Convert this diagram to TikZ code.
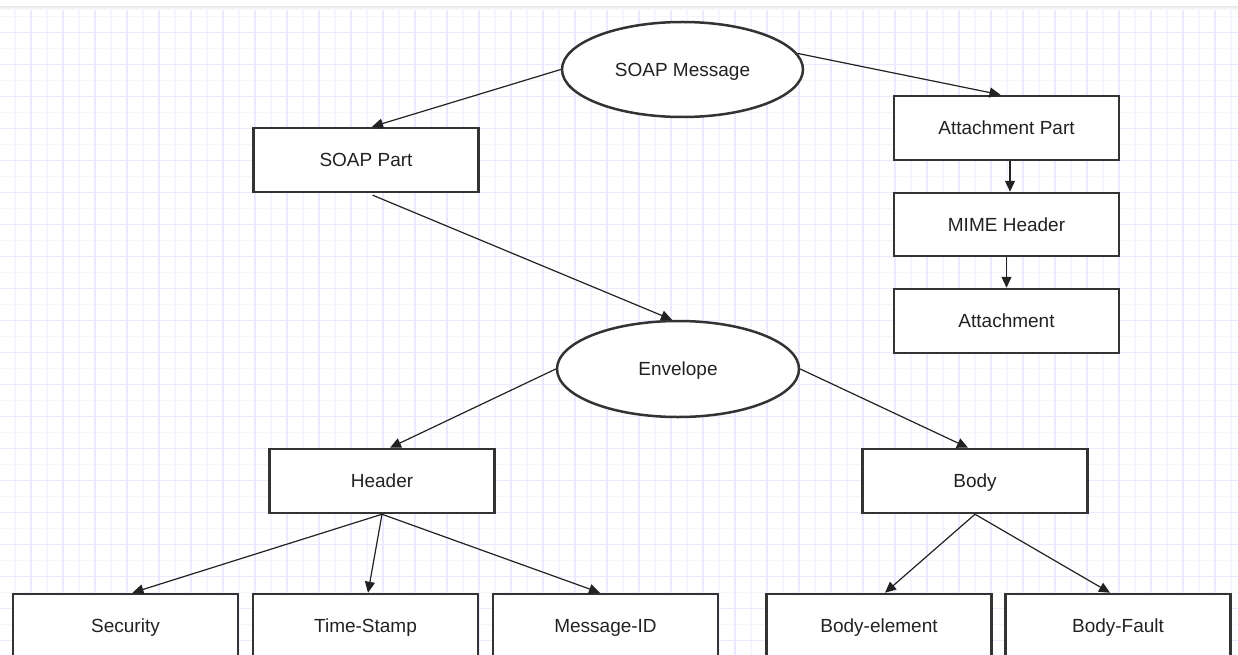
\documentclass[tikz,border=0pt]{standalone}
\usepackage{fontspec}
\setmainfont{Liberation Sans}
\usetikzlibrary{arrows.meta,shapes.geometric}
\definecolor{gridminor}{RGB}{245,244,255}
\definecolor{gridmajor}{RGB}{234,233,253}
\definecolor{edgecol}{RGB}{51,51,51}
\definecolor{inkcol}{RGB}{34,34,34}

\begin{document}
\begin{tikzpicture}[x=1pt,y=-1pt,
  shapebase/.style={draw=edgecol, line width=2.5pt, fill=white, text=inkcol,
    font=\fontsize{19}{22}\selectfont, inner sep=0pt,
    text height=13.6pt, text depth=0pt},
  entity/.style={shapebase, rectangle, minimum width=225pt, minimum height=64pt},
  bubble/.style={shapebase, ellipse, minimum width=241pt, minimum height=95pt},
  link/.style={draw=inkcol, line width=1.2pt, -{Triangle[length=11pt,width=10pt]}}
]
\useasboundingbox (0,0) rectangle (1238,655);
\clip (0,0) rectangle (1238,655);

% background grid
\fill[white] (0,0) rectangle (1238,655);
\foreach \k in {0,...,76}
  \draw[gridminor, line width=1.1pt] ({15+16*\k},10) -- ({15+16*\k},655);
\foreach \k in {1,...,40}
  \draw[gridminor, line width=1.1pt] (0,{16*\k+0.5}) -- (1238,{16*\k+0.5});
\foreach \k in {0,...,37}
  \draw[gridmajor, line width=1.4pt] ({31+32*\k},10) -- ({31+32*\k},655);
\foreach \k in {1,...,20}
  \draw[gridmajor, line width=1.4pt] (0,{32*\k+0.5}) -- (1238,{32*\k+0.5});
% top bar with soft shadow
\fill[white] (0,0) rectangle (1238,7);
\shade[top color=black!7, bottom color=white] (0,7) rectangle (1238,10);

% nodes
\node[bubble] (msg) at (682.5,69.5) {SOAP Message};
\node[entity] (part) at (366,160) {SOAP Part};
\node[entity] (att) at (1006.5,128) {Attachment Part};
\node[entity, minimum height=63pt] (mime) at (1006.5,224.5) {MIME Header};
\node[entity] (atm) at (1006.5,321) {Attachment};
\node[bubble, minimum width=242pt, minimum height=96pt] (env) at (678,369) {Envelope};
\node[entity] (hdr) at (382,481) {Header};
\node[entity] (body) at (975,481) {Body};
\node[entity] (sec) at (125.5,626) {Security};
\node[entity] (ts) at (365.5,626) {Time-Stamp};
\node[entity] (mid) at (605.5,626) {Message-ID};
\node[entity] (bel) at (879,626) {Body-element};
\node[entity] (bft) at (1118,626) {Body-Fault};

% connectors
\draw[link] (msg.west) -- ([xshift=6pt]part.north);
\draw[link] (msg.8) -- ([xshift=-6pt]att.north);
\draw[link] ([xshift=3.5pt]att.south) -- ([xshift=3.5pt]mime.north);
\draw[link] (mime.south) -- (atm.north);
\draw[link, shorten <=5pt] ([xshift=2pt]part.south) -- ([xshift=-6pt]env.north);
\draw[link] (env.west) -- ([xshift=8pt]hdr.north);
\draw[link] (env.east) -- ([xshift=-7pt]body.north);
\draw[link] (hdr.south) -- ([xshift=7pt]sec.north);
\draw[link] (hdr.south) -- ([xshift=2.5pt]ts.north);
\draw[link] (hdr.south) -- ([xshift=-5.5pt]mid.north);
\draw[link] (body.south) -- ([xshift=6pt]bel.north);
\draw[link] (body.south) -- ([xshift=-8pt]bft.north);
\end{tikzpicture}
\end{document}
